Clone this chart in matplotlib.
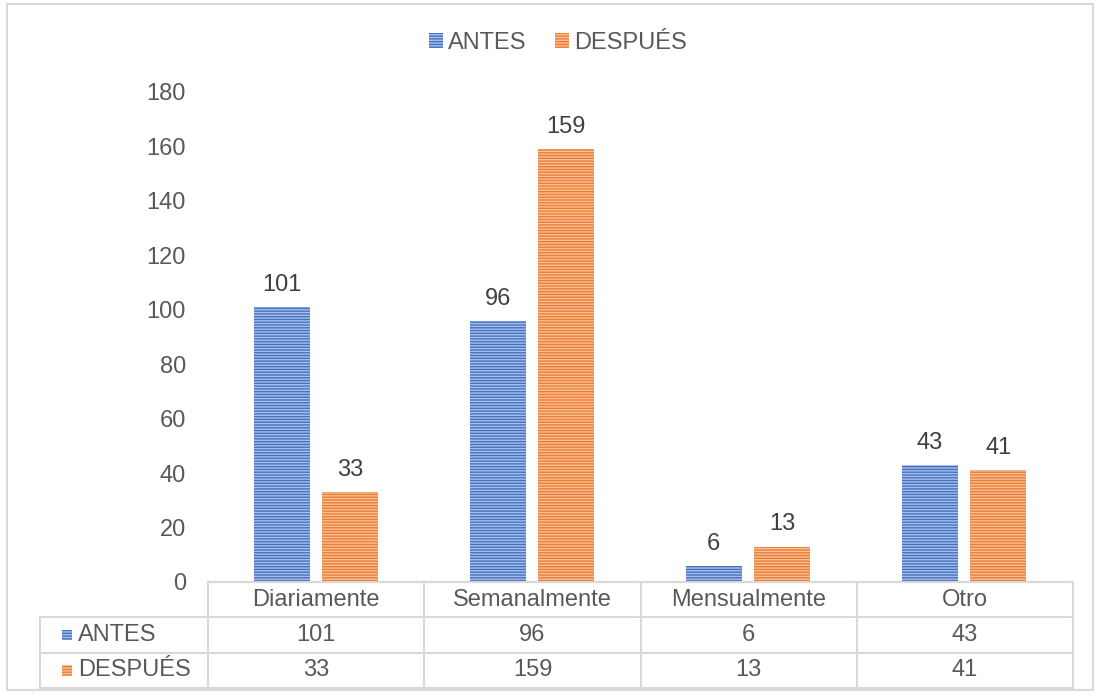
import matplotlib

matplotlib.use("Agg")
import matplotlib.pyplot as plt
from matplotlib.patches import Rectangle

plt.rcParams["font.family"] = ["Liberation Sans", "DejaVu Sans"]

# --- Data --------------------------------------------------------------------
categories = ["Diariamente", "Semanalmente", "Mensualmente", "Otro"]
antes = [101, 96, 6, 43]
despues = [33, 159, 13, 41]
series_names = ["ANTES", "DESPUÉS"]
y_ticks = [0, 20, 40, 60, 80, 100, 120, 140, 160, 180]

# --- Style -------------------------------------------------------------------
BLUE, BLUE_LT = "#4472C4", "#A9BFE6"
ORANGE, ORANGE_LT = "#ED7D31", "#F8C09A"
TEXT = "#595959"
GRID = "#D9D9D9"
FS = 17

W, H = 1100, 696
fig = plt.figure(figsize=(W / 100, H / 100), dpi=100)

# outer chart border
fig.patches.append(Rectangle((7 / W, 6 / H), 1086 / W, 686 / H, transform=fig.transFigure,
                             fill=False, edgecolor=GRID, linewidth=1.5))

ax = fig.add_axes([208 / W, 114 / H, 864 / W, 490 / H])
x = list(range(len(categories)))
bw, off = 0.26, 0.158
bars_a = ax.bar([i - off for i in x], antes, bw, color=BLUE, edgecolor=BLUE_LT,
                hatch="------", linewidth=0, label=series_names[0])
bars_d = ax.bar([i + off for i in x], despues, bw, color=ORANGE, edgecolor=ORANGE_LT,
                hatch="------", linewidth=0, label=series_names[1])
for bars in (bars_a, bars_d):
    ax.bar_label(bars, padding=8, fontsize=FS, color="#404040")

ax.set_xlim(-0.5, len(categories) - 0.5)
ax.set_ylim(0, 180)
ax.set_yticks(y_ticks)
ax.tick_params(axis="y", length=0, labelsize=FS, labelcolor=TEXT, pad=16)
ax.set_xticks([])
for side in ("top", "right", "left"):
    ax.spines[side].set_visible(False)
ax.spines["bottom"].set_color(GRID)
ax.spines["bottom"].set_linewidth(1.5)

# --- Data table --------------------------------------------------------------
lab_w = 168 / 216  # width of the row-label column in category units
tax = fig.add_axes([40 / W, 8 / H, 1033 / W, 106 / H])
tax.set_xlim(-0.5 - lab_w, len(categories) - 0.5)
tax.set_ylim(0, 3)
tax.axis("off")
left, right = -0.5 - lab_w, len(categories) - 0.5
lk = dict(color=GRID, linewidth=1.5, clip_on=False)
# horizontal lines
tax.plot([-0.5, right], [3, 3], **lk)
tax.plot([left, right], [2, 2], **lk)
tax.plot([left, right], [1, 1], **lk)
tax.plot([left, right], [0, 0], **lk)
# vertical lines
tax.plot([left, left], [0, 2], **lk)
for i in range(len(categories) + 1):
    tax.plot([i - 0.5, i - 0.5], [0, 3], **lk)

for i, c in enumerate(categories):
    tax.text(i, 2.5, c, ha="center", va="center", fontsize=FS, color=TEXT)
    tax.text(i, 1.5, str(antes[i]), ha="center", va="center", fontsize=FS, color=TEXT)
    tax.text(i, 0.5, str(despues[i]), ha="center", va="center", fontsize=FS, color=TEXT)

for row, name, col, lt in ((1.5, series_names[0], BLUE, BLUE_LT),
                           (0.5, series_names[1], ORANGE, ORANGE_LT)):
    sq = 10 / 216
    tax.add_patch(Rectangle((left + 22 / 216, row - 0.15), sq, 0.3, facecolor=col,
                            edgecolor=lt, hatch="------", linewidth=0))
    tax.text(left + 38 / 216, row, name, ha="left", va="center", fontsize=FS, color=TEXT)

# --- Legend ------------------------------------------------------------------
fig.legend(handles=[bars_a, bars_d], loc="center", bbox_to_anchor=(0.507, 1 - 43 / H),
           ncol=2, frameon=False, fontsize=FS, labelcolor=TEXT, handlelength=0.6,
           handleheight=0.6, handletextpad=0.2, columnspacing=1.2)

fig.savefig("out.png", dpi=100)
